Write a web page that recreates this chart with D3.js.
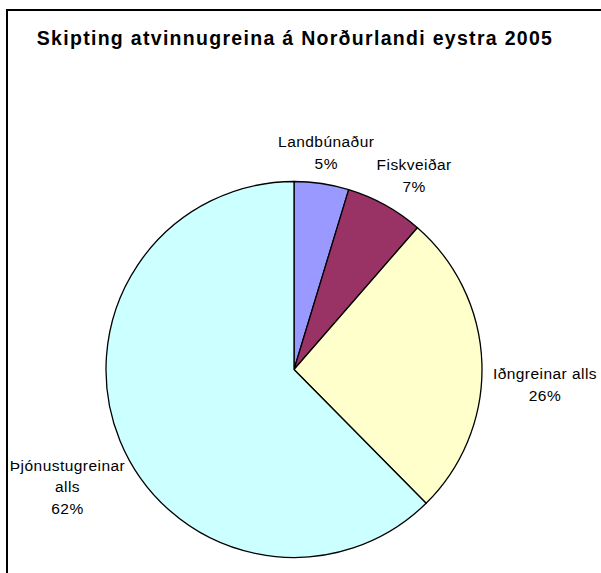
<!DOCTYPE html>
<html>
<head>
<meta charset="utf-8">
<script src="https://cdn.jsdelivr.net/npm/d3@7"></script>
<style>
  body { margin: 0; background: #fff; }
  svg { display: block; }
  text { font-family: "Liberation Sans", Arial, sans-serif; fill: #000; }
</style>
</head>
<body>
<svg id="chart" width="601" height="573"></svg>
<script>
// Data
const title = "Skipting atvinnugreina á Norðurlandi eystra 2005";
const categories = ["Landbúnaður", "Fiskveiðar", "Iðngreinar alls", "Þjónustugreinar alls"];
const labelLines = [["Landbúnaður"], ["Fiskveiðar"], ["Iðngreinar alls"], ["Þjónustugreinar", "alls"]];
const values = [4.7, 6.7, 26.2, 62.4];
const colors = ["#9999FF", "#993366", "#FFFFCC", "#CCFFFF"];

const svg = d3.select("#chart");
const W = 601, H = 573;

// chart frame
svg.append("rect")
  .attr("x", 7).attr("y", 10)
  .attr("width", 620).attr("height", 600)
  .attr("fill", "#fff").attr("stroke", "#000").attr("stroke-width", 2);

svg.append("text")
  .attr("x", 295).attr("y", 45)
  .attr("text-anchor", "middle")
  .attr("font-size", 19.5).attr("font-weight", "bold")
  .attr("letter-spacing", 1.3)
  .text(title);

const cx = 294, cy = 369.5, r = 188;
const g = svg.append("g").attr("transform", `translate(${cx},${cy})`);

const pie = d3.pie().sort(null).value(d => d);
const arcs = pie(values);
const arc = d3.arc().innerRadius(0).outerRadius(r);

const total = d3.sum(values);
const fs = 15.5, lh = 21.5;
const labelNudge = [[-4, 0], [6, -2], [1, 22], [10, 30]];

const labels = g.append("g");
arcs.forEach((d, i) => {
  const lines = labelLines[i].concat([Math.round(d.value / total * 100) + "%"]);
  const a = (d.startAngle + d.endAngle) / 2;
  const sx = Math.sin(a), sy = -Math.cos(a);
  const t = labels.append("text")
    .attr("text-anchor", "middle")
    .attr("font-size", fs)
    .attr("letter-spacing", 0.45);
  lines.forEach((ln, j) => {
    t.append("tspan").attr("x", 0).attr("dy", j === 0 ? 0 : lh).text(ln);
  });
  const bb = t.node().getBBox();
  const w = bb.width, h = lines.length * lh;
  const px = (r + 10) * sx + sx * w / 2 + labelNudge[i][0];
  const py = (r + 10) * sy + sy * h / 2 + labelNudge[i][1];
  const firstBaseline = py - h / 2 + lh * 0.75;
  t.attr("transform", `translate(${px},${firstBaseline})`);
});

g.selectAll("path.slice")
  .data(arcs)
  .enter().append("path")
  .attr("class", "slice")
  .attr("d", arc)
  .attr("fill", (d, i) => colors[i])
  .attr("stroke", "#000")
  .attr("stroke-width", 1.3)
  .attr("stroke-linejoin", "round");
</script>
</body>
</html>
